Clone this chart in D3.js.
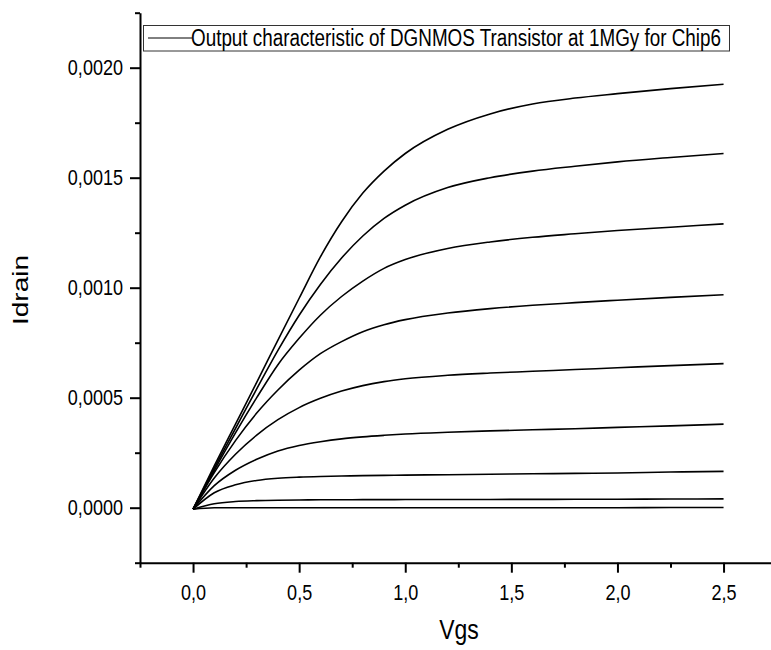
<!DOCTYPE html>
<html>
<head>
<meta charset="utf-8">
<script src="https://cdn.jsdelivr.net/npm/d3@7"></script>
<style>
  html, body { margin: 0; padding: 0; background: #fff; }
  svg { display: block; }
  text { font-family: "Liberation Sans", Arial, Helvetica, sans-serif; fill: #000; }
</style>
</head>
<body>
<svg id="chart" width="771" height="650"></svg>
<script>
// Drain sweep voltage (V) at which each curve is sampled
const vgs = [0, 0.1, 0.2, 0.3, 0.4, 0.5, 0.6, 0.7, 0.8, 0.9, 1.0, 1.2, 1.4, 1.6, 1.8, 2.0, 2.25, 2.5];

// Drain current (A), one array per gate step, from highest to lowest
const curve1 = [-0.000007, 0.000190, 0.000380, 0.000570, 0.000762, 0.000952, 0.001140, 0.001300, 0.001430, 0.001530, 0.001610, 0.001720, 0.001790, 0.001835, 0.001862, 0.001882, 0.001905, 0.001925];
const curve2 = [-0.000007, 0.000180, 0.000360, 0.000540, 0.000715, 0.000875, 0.001015, 0.001135, 0.001235, 0.001315, 0.001375, 0.001455, 0.001500, 0.001530, 0.001552, 0.001572, 0.001592, 0.001610];
const curve3 = [-0.000007, 0.000170, 0.000340, 0.000500, 0.000650, 0.000770, 0.000875, 0.000960, 0.001030, 0.001088, 0.001128, 0.001178, 0.001208, 0.001229, 0.001245, 0.001260, 0.001275, 0.001290];
const curve4 = [-0.000007, 0.000160, 0.000305, 0.000430, 0.000535, 0.000625, 0.000700, 0.000755, 0.000800, 0.000832, 0.000855, 0.000885, 0.000905, 0.000920, 0.000932, 0.000943, 0.000956, 0.000968];
const curve5 = [-0.000007, 0.000135, 0.000243, 0.000330, 0.000400, 0.000455, 0.000497, 0.000530, 0.000555, 0.000573, 0.000586, 0.000602, 0.000612, 0.000620, 0.000628, 0.000636, 0.000646, 0.000655];
const curve6 = [-0.000007, 0.000100, 0.000170, 0.000220, 0.000258, 0.000283, 0.000300, 0.000313, 0.000322, 0.000329, 0.000335, 0.000343, 0.000349, 0.000354, 0.000359, 0.000365, 0.000372, 0.000380];
const curve7 = [-0.000007, 0.000068, 0.000104, 0.000124, 0.000134, 0.000139, 0.000142, 0.000144, 0.000146, 0.000147, 0.000148, 0.000150, 0.000152, 0.000154, 0.000156, 0.000158, 0.000162, 0.000165];
const curve8 = [-0.000007, 0.000018, 0.000028, 0.000032, 0.000034, 0.0000350, 0.000036, 0.0000362, 0.0000365, 0.0000367, 0.000037, 0.0000373, 0.0000376, 0.0000379, 0.0000382, 0.0000386, 0.0000393, 0.000040];
const curve9 = [-0.000007, 0.000000, 0.000000, 0.000000, 0.000000, 0.000000, 0.000000, 0.000000, 0.000000, 0.000000, 0.000000, 0.000000, 0.000000, 0.000000, 0.000000, 0.000000, 0.000001, 0.000001];
const curves = [curve1, curve2, curve3, curve4, curve5, curve6, curve7, curve8, curve9];

// Axis ticks and labels
const xMajorTicks = [0, 0.5, 1.0, 1.5, 2.0, 2.5];
const xMinorTicks = [-0.25, 0.25, 0.75, 1.25, 1.75, 2.25];
const yMajorTicks = [0, 0.0005, 0.0010, 0.0015, 0.0020];
const yMinorTicks = [-0.00025, 0.00025, 0.00075, 0.00125, 0.00175, 0.00225];
const xTitle = "Vgs";
const yTitle = "Idrain";
const legendLabel = "Output characteristic of DGNMOS Transistor at 1MGy for Chip6";

// Text in this figure is horizontally condensed
const squeeze = 0.82;

const svg = d3.select("#chart");

const x = d3.scaleLinear().domain([-0.25, 2.75]).range([140, 776.6]);
const y = d3.scaleLinear().domain([-0.00025, 0.00225]).range([562.7, 12.7]);

const commaFmt = f => v => f(v).replace(".", ",");

// ---- curves
const line = d3.line()
  .x((d, i) => x(vgs[i]))
  .y(d => y(d))
  .curve(d3.curveMonotoneX);

svg.append("g")
  .selectAll("path")
  .data(curves)
  .join("path")
  .attr("d", line)
  .attr("fill", "none")
  .attr("stroke", "#000")
  .attr("stroke-width", 1.6);

// ---- bottom axis
const xAxisG = svg.append("g").attr("transform", `translate(0,${y.range()[0]})`);
xAxisG.call(d3.axisBottom(x).tickValues(xMajorTicks).tickSize(10).tickSizeOuter(0)
  .tickPadding(12).tickFormat(commaFmt(d3.format(".1f"))));
xAxisG.append("g").call(d3.axisBottom(x).tickValues(xMinorTicks).tickSize(5).tickFormat(""))
  .select(".domain").remove();
xAxisG.selectAll("text")
  .attr("font-size", 22)
  .attr("font-family", "Liberation Sans, Arial, sans-serif")
  .attr("transform", `scale(${squeeze},1)`);

// ---- left axis
const yAxisG = svg.append("g").attr("transform", `translate(${x.range()[0]},0)`);
yAxisG.call(d3.axisLeft(y).tickValues(yMajorTicks).tickSize(10).tickSizeOuter(0)
  .tickPadding(8).tickFormat(commaFmt(d3.format(".4f"))));
yAxisG.append("g").call(d3.axisLeft(y).tickValues(yMinorTicks).tickSize(5).tickFormat(""))
  .select(".domain").remove();
yAxisG.selectAll("text")
  .attr("font-size", 22)
  .attr("font-family", "Liberation Sans, Arial, sans-serif")
  .attr("x", -17 / squeeze)
  .attr("transform", `scale(${squeeze},1)`);

svg.selectAll(".domain").attr("stroke-width", 2).attr("stroke", "#000");
svg.selectAll(".tick line").attr("stroke-width", 2).attr("stroke", "#000");

// ---- axis titles
svg.append("text")
  .attr("transform", `translate(459,639) scale(${squeeze},1)`)
  .attr("text-anchor", "middle")
  .attr("font-size", 28)
  .text(xTitle);

svg.append("text")
  .attr("transform", `translate(28,290) rotate(-90) scale(1,${squeeze})`)
  .attr("text-anchor", "middle")
  .attr("font-size", 28)
  .text(yTitle);

// ---- legend
const legend = svg.append("g");
legend.append("rect")
  .attr("x", 143.5).attr("y", 25.5)
  .attr("width", 586).attr("height", 25.5)
  .attr("fill", "#fff")
  .attr("stroke", "#333")
  .attr("stroke-width", 1);
legend.append("line")
  .attr("x1", 148).attr("x2", 192)
  .attr("y1", 38).attr("y2", 38)
  .attr("stroke", "#000").attr("stroke-width", 1);
legend.append("text")
  .attr("transform", `translate(191,46) scale(${squeeze},1)`)
  .attr("font-size", 23)
  .text(legendLabel);
</script>
</body>
</html>
